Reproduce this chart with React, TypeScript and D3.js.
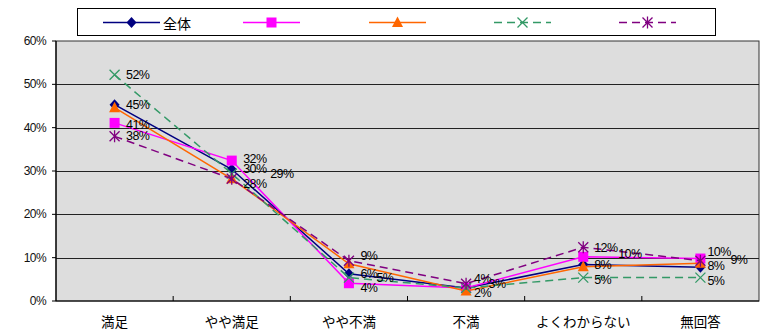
import React from "react";
import * as d3 from "d3";

const categories = ["満足", "やや満足", "やや不満", "不満", "よくわからない", "無回答"];
const seriesNames = ["全体", "", "", "", ""];
const navyValues = [45.3, 30.4, 6.3, 3.0, 8.4, 7.8];
const magentaValues = [41.1, 32.4, 4.1, 3.0, 10.2, 9.8];
const orangeValues = [44.6, 28.2, 8.6, 2.3, 7.9, 8.7];
const greenValues = [52.2, 29.4, 5.4, 3.0, 5.4, 5.4];
const purpleValues = [38.0, 28.2, 9.3, 4.0, 12.4, 9.3];
const yTicks = [0, 10, 20, 30, 40, 50, 60];

// which data labels are shown: [series, category, dx, dy]
const labelLayout: [number, number, number, number][] = [
  [3, 0, 11.5, 0], [0, 0, 11.5, 0], [1, 0, 11.5, 2], [4, 0, 11.5, 0],
  [1, 1, 11.5, -1.5], [0, 1, 11.5, -0.5], [3, 1, 38.5, 0], [4, 1, 11.5, 5],
  [4, 2, 11.5, -5], [0, 2, 11.5, 0], [3, 2, 27.5, 0], [1, 2, 11.5, 5],
  [4, 3, 8, -5], [0, 3, 22.5, -4], [2, 3, 8, 2],
  [4, 4, 11, 1], [1, 4, 35, -3], [0, 4, 11, 0], [3, 4, 11, 2],
  [1, 5, 7, -7], [4, 5, 30, -1], [0, 5, 7, -1], [3, 5, 7, 3],
];

const allValues = [navyValues, magentaValues, orangeValues, greenValues, purpleValues];
const styles = [
  { color: "#000080", dash: "", marker: "diamond", width: 1.5 },
  { color: "#FF00FF", dash: "", marker: "square", width: 1.5 },
  { color: "#FF6600", dash: "", marker: "triangle", width: 1.5 },
  { color: "#339966", dash: "8,5", marker: "x", width: 1.5 },
  { color: "#800080", dash: "8,5", marker: "star", width: 1.5 },
];

const W = 762, H = 331;
const plot = { left: 56, right: 759, top: 41, bottom: 301 };

function Marker({ type, x, y, color }: { type: string; x: number; y: number; color: string }) {
  if (type === "diamond") {
    return <path d={`M${x},${y - 5.5}L${x + 5},${y}L${x},${y + 5.5}L${x - 5},${y}Z`} fill={color} />;
  }
  if (type === "square") {
    return <rect x={x - 5} y={y - 5} width={10} height={10} fill={color} />;
  }
  if (type === "triangle") {
    return <path d={`M${x},${y - 6}L${x + 5.5},${y + 4.5}L${x - 5.5},${y + 4.5}Z`} fill={color} />;
  }
  const r = 5;
  if (type === "x") {
    return (
      <path d={`M${x - r},${y - r}L${x + r},${y + r}M${x - r},${y + r}L${x + r},${y - r}`} stroke={color} strokeWidth={1.3} fill="none" />
    );
  }
  return (
    <path d={`M${x - r},${y - r}L${x + r},${y + r}M${x - r},${y + r}L${x + r},${y - r}M${x},${y - r - 1}L${x},${y + r + 1}`} stroke={color} strokeWidth={1.3} fill="none" />
  );
}

export default function App() {
  const xBand = d3.scaleBand<string>().domain(categories).range([plot.left, plot.right]).padding(0);
  const xc = (c: string) => (xBand(c) as number) + xBand.bandwidth() / 2;
  const y = d3.scaleLinear().domain([0, 60]).range([plot.bottom, plot.top]);
  const line = d3.line<number>().x((_, i) => xc(categories[i])).y((v) => y(v));
  const legendX = [103, 243, 369, 494, 619];
  const legendY = 22.5;
  const numFont = "'Liberation Sans', Arial, sans-serif";
  const jpFont = "'Noto Sans CJK JP', sans-serif";

  return (
    <svg width={W} height={H} style={{ position: "absolute", left: 0, top: 0, background: "#fff" }}>
      {/* legend */}
      <rect x={77.5} y={8.5} width={638} height={27} fill="#fff" stroke="#000" strokeWidth={1} />
      {styles.map((s, i) => (
        <g key={i}>
          <line x1={legendX[i]} x2={legendX[i] + 57} y1={legendY} y2={legendY} stroke={s.color} strokeWidth={s.width} strokeDasharray={s.dash} />
          <Marker type={s.marker} x={legendX[i] + 28.5} y={legendY} color={s.color} />
          {seriesNames[i] && (
            <text x={legendX[i] + 60} y={legendY} dominantBaseline="central" fontFamily={jpFont} fontSize={14} fill="#000">
              {seriesNames[i]}
            </text>
          )}
        </g>
      ))}

      {/* plot area */}
      <rect x={plot.left} y={plot.top} width={plot.right - plot.left} height={plot.bottom - plot.top} fill="#DDDDDD" stroke="#333" strokeWidth={1} />
      {yTicks.filter((t) => t > 0 && t < 60).map((t) => (
        <line key={t} x1={plot.left} x2={plot.right} y1={Math.round(y(t)) + 0.5} y2={Math.round(y(t)) + 0.5} stroke="#222" strokeWidth={1} />
      ))}
      {/* axes */}
      <line x1={plot.left} x2={plot.left} y1={plot.top} y2={plot.bottom} stroke="#000" strokeWidth={1.2} />
      <line x1={plot.left} x2={plot.right} y1={plot.bottom} y2={plot.bottom} stroke="#000" strokeWidth={1.2} />
      {yTicks.map((t) => (
        <g key={t}>
          <line x1={plot.left - 4} x2={plot.left} y1={y(t)} y2={y(t)} stroke="#000" />
          <text x={46} y={y(t)} textAnchor="end" dominantBaseline="central" fontFamily={numFont} fontSize={12} letterSpacing={-0.6} fill="#111">
            {t}%
          </text>
        </g>
      ))}
      {categories.slice(1).map((c) => (
        <line key={c} x1={xBand(c)} x2={xBand(c)} y1={plot.bottom} y2={plot.bottom - 5} stroke="#000" />
      ))}
      {categories.map((c) => (
        <text key={c} x={xc(c)} y={321} textAnchor="middle" dominantBaseline="central" fontFamily={jpFont} fontSize={13.5} fill="#000">
          {c}
        </text>
      ))}

      {/* series */}
      {allValues.map((vals, si) => (
        <g key={si}>
          <path d={line(vals) || ""} fill="none" stroke={styles[si].color} strokeWidth={styles[si].width} strokeDasharray={styles[si].dash} />
          {vals.map((v, ci) => (
            <Marker key={ci} type={styles[si].marker} x={xc(categories[ci])} y={y(v)} color={styles[si].color} />
          ))}
        </g>
      ))}

      {/* data labels */}
      {labelLayout.map(([si, ci, dx, dy], k) => (
        <text key={k} x={xc(categories[ci]) + dx} y={y(allValues[si][ci]) + dy} dominantBaseline="central" fontFamily={numFont} fontSize={12.5} letterSpacing={-0.6} fill="#000">
          {Math.round(allValues[si][ci])}%
        </text>
      ))}
    </svg>
  );
}
